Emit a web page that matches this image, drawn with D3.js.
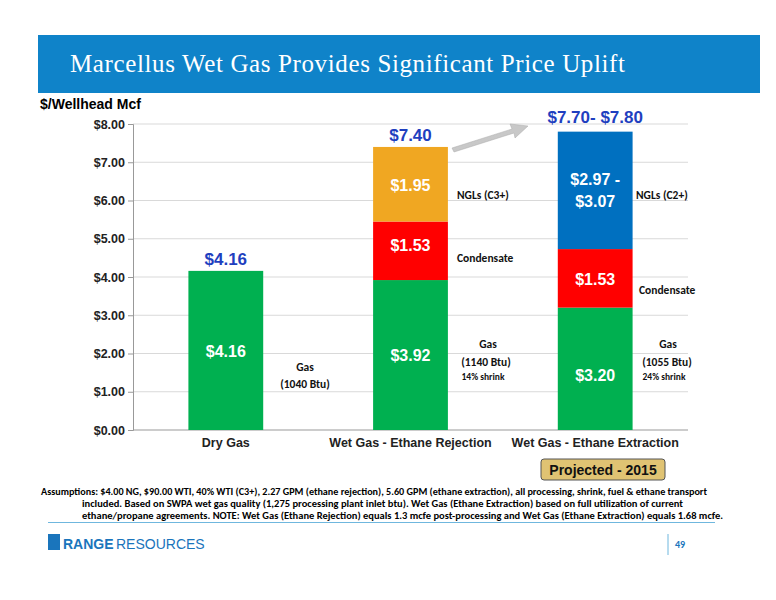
<!DOCTYPE html>
<html><head><meta charset="utf-8">
<script src="https://cdn.jsdelivr.net/npm/d3@7"></script>
<style>body{margin:0;background:#fff}</style></head>
<body><svg id="c" width="776" height="600"></svg>
<script>
const categories = ["Dry Gas", "Wet Gas - Ethane Rejection", "Wet Gas - Ethane Extraction"];
const gasValues = [4.16, 3.92, 3.20];
const condensateValues = [0, 1.53, 1.53];
const nglValues = [0, 1.95, 3.07];
const gasLabels = ["$4.16", "$3.92", "$3.20"];
const condLabels = ["", "$1.53", "$1.53"];
const nglLabels = ["", "$1.95", "$2.97 -|$3.07"];
const totalLabels = ["$4.16", "$7.40", "$7.70- $7.80"];
const yTicks = [0, 1, 2, 3, 4, 5, 6, 7, 8];

const svg = d3.select("#c");
svg.append("rect").attr("x",38).attr("y",35).attr("width",722).attr("height",58).attr("fill","#0f83c9");
svg.append("text").attr("x",70).attr("y",72).attr("fill","#fff").attr("font-family","Liberation Serif, serif")
  .attr("font-size",25).attr("textLength",555).attr("lengthAdjust","spacing").text("Marcellus Wet Gas Provides Significant Price Uplift");

const x = d3.scaleBand().domain(categories).range([133,688]).paddingInner(0.595).paddingOuter(0.3);
const y = d3.scaleLinear().domain([0,8]).range([430,124]);
const F = "Liberation Sans, Arial, sans-serif";

const g = svg.append("g");
g.selectAll(".grid").data(yTicks.slice(1)).join("line").attr("x1",133).attr("x2",688)
  .attr("y1",d=>y(d)).attr("y2",d=>y(d)).attr("stroke","#d9d9d9");
const ax = g.append("g").attr("transform","translate(133,0)")
  .call(d3.axisLeft(y).tickValues(yTicks).tickFormat(d=>"$"+d.toFixed(2)).tickSize(5));
ax.select(".domain").attr("stroke","#999");
ax.selectAll(".tick line").attr("stroke","#999");
ax.selectAll("text").attr("font-family",F).attr("font-weight","bold").attr("font-size",12.5).attr("fill","#222");
const xa = g.append("g").attr("transform","translate(0,430)").call(d3.axisBottom(x).tickSize(0));
xa.select(".domain").attr("stroke","#999").attr("d","M133,0H688");
xa.selectAll("text").attr("dy",14).attr("font-family",F).attr("font-weight","bold").attr("font-size",12.5).attr("fill","#222");

svg.append("text").attr("x",40).attr("y",109).attr("font-family",F).attr("font-weight","bold").attr("font-size",14).text("$/Wellhead Mcf");

categories.forEach((c,i)=>{
  const bx = x(c), bw = x.bandwidth(), cx = bx + bw/2;
  const segs = [[0,gasValues[i],"#00b050"],
    [gasValues[i],gasValues[i]+condensateValues[i],"#ff0000"],
    [gasValues[i]+condensateValues[i],gasValues[i]+condensateValues[i]+nglValues[i], i==2?"#0070c0":"#f0a722"]];
  segs.forEach(s=>{
    if(s[1]<=s[0]) return;
    g.append("rect").attr("x",bx).attr("width",bw).attr("y",y(s[1])).attr("height",y(s[0])-y(s[1])).attr("fill",s[2]);
  });
  const top = gasValues[i]+condensateValues[i]+nglValues[i];
  svg.append("text").attr("x",cx).attr("y",y(top)-(i==2?9:6)).attr("text-anchor","middle").attr("font-family",F)
    .attr("font-weight","bold").attr("font-size",17).attr("fill","#1f3fbf").text(totalLabels[i]);
});
function lbl(t,xx,yy,size,fill,fam,anchor){svg.append("text").attr("x",xx).attr("y",yy).attr("text-anchor",anchor||"middle")
  .attr("font-family",fam||F).attr("font-weight","bold").attr("font-size",size).attr("fill",fill).text(t);}
const cx = categories.map(c=>x(c)+x.bandwidth()/2);
lbl(gasLabels[0],cx[0],357,16,"#fff"); lbl(gasLabels[1],cx[1],361,16,"#fff"); lbl(gasLabels[2],cx[2],381,16,"#fff");
lbl(condLabels[1],cx[1],251,16,"#fff"); lbl(condLabels[2],cx[2],285,16,"#fff");
lbl(nglLabels[1],cx[1],191,16,"#fff");
const ng = nglLabels[2].split("|");
lbl(ng[0],cx[2],185,16,"#fff"); lbl(ng[1],cx[2],207,16,"#fff");
const C = "Carlito, Calibri, Open Sans, sans-serif";
lbl("NGLs (C3+)",457,199,11.5,"#111",C,"start"); lbl("NGLs (C2+)",636,199,11.5,"#111",C,"start");
lbl("Condensate",457,262,11.5,"#111",C,"start"); lbl("Condensate",639,294,11.5,"#111",C,"start");
lbl("Gas",488,348,11.5,"#111",C); lbl("(1140 Btu)",486,366,11.5,"#111",C); lbl("14% shrink",483,380,9.5,"#111",C);
lbl("Gas",668,348,11.5,"#111",C); lbl("(1055 Btu)",667,366,11.5,"#111",C); lbl("24% shrink",664,380,9.5,"#111",C);
lbl("Gas",305,371,11.5,"#111",C); lbl("(1040 Btu)",305,388,11.5,"#111",C);
svg.append("path").attr("d","M452,148 L512,129 L510,124 L528,126 L515,138 L514,133 L454,152 Z").attr("fill","#c8c8c8").attr("stroke","#aaa").attr("stroke-width",0.5);
svg.append("rect").attr("x",541).attr("y",459).attr("width",124).attr("height",21).attr("rx",3).attr("fill","#e0c373").attr("stroke","#555");
lbl("Projected - 2015",603,475,14,"#111");
const notes = [["Assumptions:  $4.00 NG, $90.00 WTI, 40% WTI (C3+), 2.27 GPM (ethane rejection), 5.60 GPM (ethane extraction), all processing, shrink, fuel & ethane transport",41,495,666],
 ["included.  Based on SWPA wet gas quality (1,275 processing plant inlet btu).  Wet Gas (Ethane Extraction) based on full utilization of current",82,507,601],
 ["ethane/propane agreements.  NOTE: Wet Gas (Ethane Rejection) equals 1.3 mcfe post-processing and Wet Gas (Ethane Extraction) equals 1.68 mcfe.",82,519,641]];
notes.forEach(n=>svg.append("text").attr("x",n[1]).attr("y",n[2]).attr("font-family",C).attr("font-weight","bold")
  .attr("font-size",9.5).attr("textLength",n[3]).attr("lengthAdjust","spacingAndGlyphs").text(n[0]));
svg.append("line").attr("x1",48).attr("x2",715).attr("y1",522.5).attr("y2",522.5).attr("stroke","#6fb7de").attr("stroke-width",1.2);
svg.append("rect").attr("x",48).attr("y",534).attr("width",12).attr("height",16).attr("fill","#1a75bc");
svg.append("text").attr("x",63).attr("y",549).attr("font-family",F).attr("font-weight","bold").attr("font-size",14).attr("fill","#1a75bc").text("RANGE");
svg.append("text").attr("x",116).attr("y",549).attr("font-family",F).attr("font-size",14).attr("fill","#1a75bc").text("RESOURCES");
svg.append("line").attr("x1",668).attr("x2",668).attr("y1",534).attr("y2",555).attr("stroke","#6fb7de");
svg.append("text").attr("x",675).attr("y",548).attr("font-family",C).attr("font-weight","bold").attr("font-size",10).attr("fill","#1a75bc").text("49");
</script></body></html>
